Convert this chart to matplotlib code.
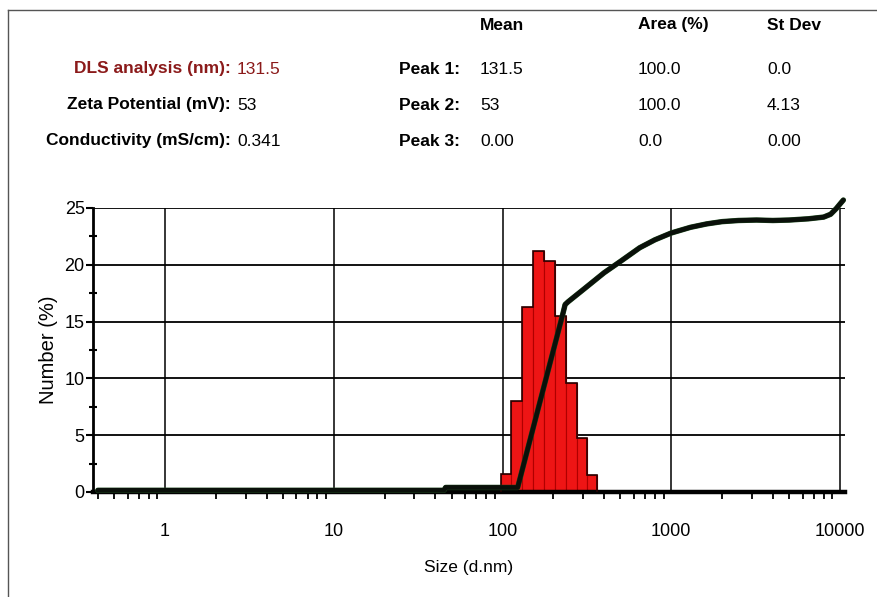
import matplotlib
matplotlib.use("Agg")
import matplotlib.pyplot as plt
from matplotlib import font_manager
from matplotlib.ticker import FixedLocator, NullFormatter, LogLocator
import matplotlib.patheffects as pe
import numpy as np

# ---------------- data ----------------
bin_edges_nm = [98, 113, 131, 152, 177, 205, 238, 275, 316, 365]
number_pct = [1.6, 8.0, 16.3, 21.2, 20.3, 15.5, 9.6, 4.75, 1.5]

curve_size_nm = [0.4, 45, 46, 100, 123, 228, 235, 245, 300, 400, 500, 650, 800,
                 1000, 1300, 1622, 2000, 2500, 3200, 4000, 5000, 6500, 8000,
                 8800, 9500, 10000, 10470]
curve_value = [0.15, 0.15, 0.4, 0.4, 0.4, 15.7, 16.5, 16.75, 17.8, 19.3, 20.3,
               21.5, 22.2, 22.8, 23.3, 23.6, 23.8, 23.9, 23.94, 23.9, 23.94,
               24.05, 24.2, 24.45, 24.95, 25.35, 25.7]

x_major_ticks = [1, 10, 100, 1000, 10000]
x_tick_labels = ["1", "10", "100", "1000", "10000"]
y_major_ticks = [0, 5, 10, 15, 20, 25]

header_cols = ["Mean", "Area (%)", "St Dev"]
info_labels = ["DLS analysis (nm):", "Zeta Potential (mV):", "Conductivity (mS/cm):"]
info_values = ["131.5", "53", "0.341"]
peak_labels = ["Peak 1:", "Peak 2:", "Peak 3:"]
peak_mean = ["131.5", "53", "0.00"]
peak_area = ["100.0", "100.0", "0.0"]
peak_sd = ["0.0", "4.13", "0.00"]

# ---------------- fonts ----------------
names = {f.name for f in font_manager.fontManager.ttflist}
narrow = "Liberation Sans Narrow" if "Liberation Sans Narrow" in names else "Liberation Sans"
regular = "Liberation Sans"
plt.rcParams["font.family"] = [narrow, "DejaVu Sans"]

W, H = 878, 597
fig = plt.figure(figsize=(W / 100, H / 100), dpi=100)
fig.patch.set_facecolor("white")

def fx(px):
    return px / W

def fy(py):
    return 1 - py / H

# border lines
fig.add_artist(plt.Line2D([fx(8), fx(8)], [fy(10), fy(597)], color="#555555", lw=1.0))
fig.add_artist(plt.Line2D([fx(8), fx(878)], [fy(10), fy(10)], color="#555555", lw=1.0))

fs = 12.5
# header
col_x = [480, 638, 767]
for x, t in zip(col_x, header_cols):
    fig.text(fx(x), fy(25), t, fontsize=fs, fontweight="bold", ha="left", va="center")

row_y = [69, 105, 141]
dark_red = "#8b1a1a"
for i, y in enumerate(row_y):
    c = dark_red if i == 0 else "black"
    fig.text(fx(231), fy(y), info_labels[i], fontsize=fs, fontweight="bold",
             ha="right", va="center", color=c)
    fig.text(fx(237), fy(y), info_values[i], fontsize=fs, ha="left", va="center", color=c)
    fig.text(fx(460), fy(y), peak_labels[i], fontsize=fs, fontweight="bold",
             ha="right", va="center")
    fig.text(fx(480), fy(y), peak_mean[i], fontsize=fs, ha="left", va="center")
    fig.text(fx(638), fy(y), peak_area[i], fontsize=fs, ha="left", va="center")
    fig.text(fx(767), fy(y), peak_sd[i], fontsize=fs, ha="left", va="center")

# ---------------- axes ----------------
left, right, top, bottom = 93, 845, 208, 492
ax = fig.add_axes([fx(left), fy(bottom), (right - left) / W, (bottom - top) / H])
ax.set_xscale("log")
ax.set_xlim(0.3744, 10706)
ax.set_ylim(0, 25)

# grid lines
for xv in x_major_ticks:
    ax.axvline(xv, color="black", lw=1.1, zorder=1)
for yv in y_major_ticks[1:]:
    ax.axhline(yv, color="black", lw=1.3, zorder=1)

# bars
edges = np.array(bin_edges_nm, dtype=float)
ax.bar(edges[:-1], number_pct, width=np.diff(edges), align="edge",
       color="#ee1515", edgecolor="#b00000", lw=0.8, zorder=2)
ax.stairs(number_pct, edges, color="#2a0000", lw=1.2, zorder=3)

# cumulative line
ax.plot(curve_size_nm, curve_value, color="#0a100a", lw=3.3, zorder=4,
        solid_capstyle="round", solid_joinstyle="round", clip_on=False,
        path_effects=[pe.Stroke(linewidth=3.9, foreground="#1f4a1f"), pe.Normal()])

# spines
for s in ["top", "right"]:
    ax.spines[s].set_visible(False)
ax.spines["bottom"].set_linewidth(3.2)
ax.spines["left"].set_linewidth(2.0)

ax.xaxis.set_major_locator(FixedLocator(x_major_ticks))
ax.set_xticklabels(x_tick_labels)
ax.xaxis.set_minor_locator(LogLocator(base=10, subs=np.arange(2, 10), numticks=20))
ax.xaxis.set_minor_formatter(NullFormatter())
ax.tick_params(axis="x", which="major", length=0, pad=22, labelsize=13)
ax.tick_params(axis="x", which="minor", length=5, width=1.3, direction="out")

ax.set_yticks(y_major_ticks)
ax.set_yticks([2.5, 7.5, 12.5, 17.5, 22.5], minor=True)
ax.tick_params(axis="y", which="major", length=5, width=1.5, direction="out",
               pad=1, labelsize=13)
ax.tick_params(axis="y", which="minor", length=6, width=1.5, direction="inout")

ax.set_xlabel("Size (d.nm)", fontsize=12.5, labelpad=15)
ax.set_ylabel("Number (%)", fontsize=14.5, family=[regular, "DejaVu Sans"], labelpad=5)

fig.savefig("out.png", dpi=100, facecolor="white")
